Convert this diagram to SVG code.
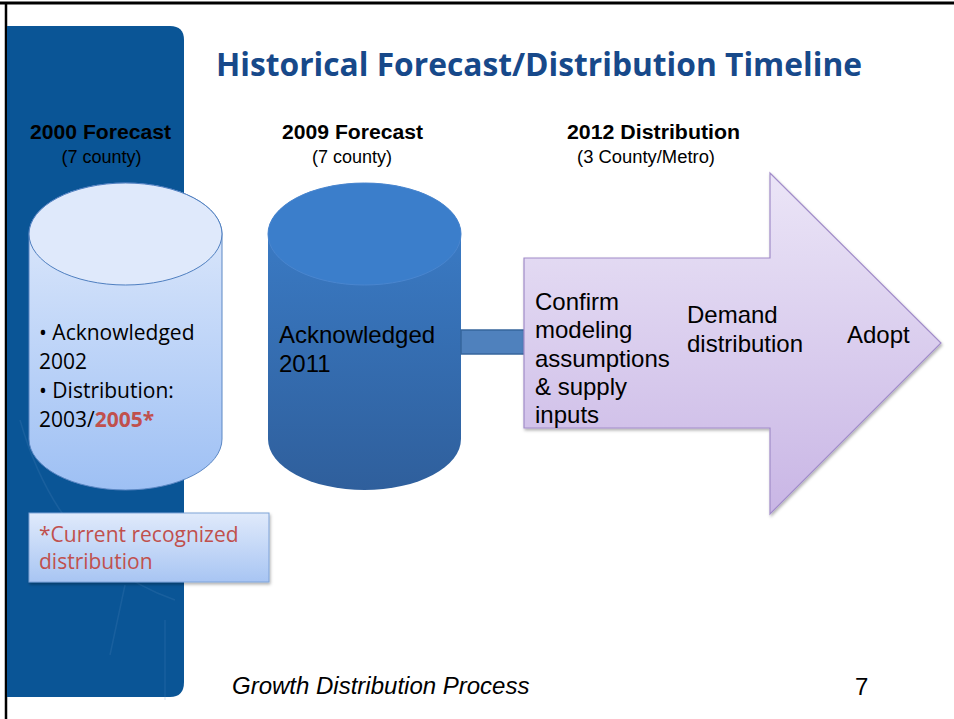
<svg xmlns="http://www.w3.org/2000/svg" width="954" height="719" viewBox="0 0 954 719">
  <style>
    .hdr { font-family: "Liberation Sans", Arial, sans-serif; font-weight: bold; font-size: 20px; fill: #000; text-anchor: middle; }
    .sub { font-family: "Liberation Sans", Arial, sans-serif; font-size: 18px; fill: #000; text-anchor: middle; }
    .cal { font-family: "Open Sans", "Noto Sans", sans-serif; font-size: 21px; fill: #000; }
    .ari { font-family: "Liberation Sans", Arial, sans-serif; font-size: 24px; fill: #000; }
    .red { fill: #c0504d; }
  </style>
  <defs>
    <linearGradient id="cylLight" x1="0" y1="0" x2="0" y2="1">
      <stop offset="0" stop-color="#e3ecfc"/>
      <stop offset="1" stop-color="#9ec0f4"/>
    </linearGradient>
    <linearGradient id="cylDark" x1="0" y1="0" x2="0" y2="1">
      <stop offset="0" stop-color="#3c7fcb"/>
      <stop offset="1" stop-color="#2f5f9c"/>
    </linearGradient>
    <linearGradient id="arrowFill" x1="0" y1="0" x2="0" y2="1">
      <stop offset="0" stop-color="#ebe5f7"/>
      <stop offset="1" stop-color="#c9b6e5"/>
    </linearGradient>
    <linearGradient id="noteFill" x1="0" y1="0" x2="0" y2="1">
      <stop offset="0" stop-color="#e0eafb"/>
      <stop offset="1" stop-color="#a8c5f3"/>
    </linearGradient>
    <filter id="shadow" x="-10%" y="-10%" width="130%" height="140%">
      <feDropShadow dx="1" dy="2" stdDeviation="1.5" flood-color="#000" flood-opacity="0.3"/>
    </filter>
  </defs>

  <!-- page -->
  <rect x="0" y="0" width="954" height="719" fill="#fff"/>
  <line x1="0" y1="3" x2="954" y2="3" stroke="#000" stroke-width="3"/>
  <line x1="6" y1="2" x2="6" y2="719" stroke="#000" stroke-width="2.5"/>

  <!-- blue side panel -->
  <g id="side-panel">
    <path d="M7 26 H170 Q184 26 184 40 V682 Q184 697 170 697 H7 Z" fill="#0a5596"/>
    <g fill="none" stroke="#5d8fc2" stroke-opacity="0.18" stroke-width="1.5">
      <path d="M20 420 Q60 560 175 600"/>
      <path d="M110 655 L125 585"/>
      <path d="M165 620 V700"/>
    </g>
  </g>

  <!-- title -->
  <text x="216" y="76" font-family="Open Sans, Noto Sans, sans-serif" font-weight="bold" font-size="32" fill="#17498a" textLength="646" lengthAdjust="spacingAndGlyphs">Historical Forecast/Distribution Timeline</text>

  <!-- column headers -->
  <g id="headers">
    <text class="hdr" x="100.5" y="139" textLength="141" lengthAdjust="spacingAndGlyphs">2000 Forecast</text>
    <text class="sub" x="101.5" y="163">(7 county)</text>
    <text class="hdr" x="352.5" y="139" textLength="141" lengthAdjust="spacingAndGlyphs">2009 Forecast</text>
    <text class="sub" x="352" y="163">(7 county)</text>
    <text class="hdr" x="653.5" y="139" textLength="173" lengthAdjust="spacingAndGlyphs">2012 Distribution</text>
    <text class="sub" x="646" y="163" font-size="17" textLength="138" lengthAdjust="spacingAndGlyphs">(3 County/Metro)</text>
  </g>

  <!-- 2000 forecast cylinder -->
  <g id="cyl-2000">
    <path d="M29 234 V439 A96.5 51 0 0 0 222 439 V234 A96.5 51 0 0 0 29 234 Z" fill="url(#cylLight)" stroke="#5b87c4" stroke-width="1"/>
    <ellipse cx="125.5" cy="234" rx="96.5" ry="51" fill="#dfe9fb" stroke="#4f7fc0" stroke-width="1"/>
    <text class="cal" x="39" y="340">• Acknowledged</text>
    <text class="cal" x="39" y="369">2002</text>
    <text class="cal" x="39" y="398">• Distribution:</text>
    <text class="cal" x="39" y="427">2003/<tspan class="red" font-weight="bold">2005*</tspan></text>
  </g>

  <!-- 2009 forecast cylinder -->
  <g id="cyl-2009">
    <path d="M268 234 V439 A96.5 51 0 0 0 461 439 V234 A96.5 51 0 0 0 268 234 Z" fill="url(#cylDark)"/>
    <ellipse cx="364.5" cy="234" rx="96.5" ry="51" fill="#3b7ecb" stroke="#4a86cf" stroke-width="1"/>
    <text class="ari" x="279" y="343">Acknowledged</text>
    <text class="ari" x="279" y="372">2011</text>
  </g>

  <!-- connector between cylinder and process arrow -->
  <g id="connectors">
    <rect x="461" y="330" width="65" height="24" fill="#4f81bd" stroke="#36659c" stroke-width="1.5"/>
  </g>

  <!-- 2012 distribution process arrow -->
  <g id="arrow-2012">
    <path d="M524 258 H770 V173 L941 343 L770 514 V428 H524 Z" fill="url(#arrowFill)" stroke="#a18cc9" stroke-width="1.2" filter="url(#shadow)"/>
    <text class="ari" x="535" y="310">Confirm</text>
    <text class="ari" x="535" y="338">modeling</text>
    <text class="ari" x="535" y="367">assumptions</text>
    <text class="ari" x="535" y="395">&amp; supply</text>
    <text class="ari" x="535" y="423">inputs</text>
    <text class="ari" x="687" y="323">Demand</text>
    <text class="ari" x="687" y="352">distribution</text>
    <text class="ari" x="847" y="343">Adopt</text>
  </g>

  <!-- footnote box -->
  <g id="note">
    <rect x="29" y="513" width="240" height="69" fill="url(#noteFill)" stroke="#7fa3d8" stroke-width="1" filter="url(#shadow)"/>
    <text class="cal red" x="39" y="542">*Current recognized</text>
    <text class="cal red" x="39" y="569">distribution</text>
  </g>

  <!-- footer -->
  <text x="232" y="694" font-family="Liberation Sans, Arial, sans-serif" font-style="italic" font-size="24" fill="#000">Growth Distribution Process</text>
  <text x="855" y="695" font-family="Liberation Sans, Arial, sans-serif" font-size="24" fill="#000">7</text>
</svg>
